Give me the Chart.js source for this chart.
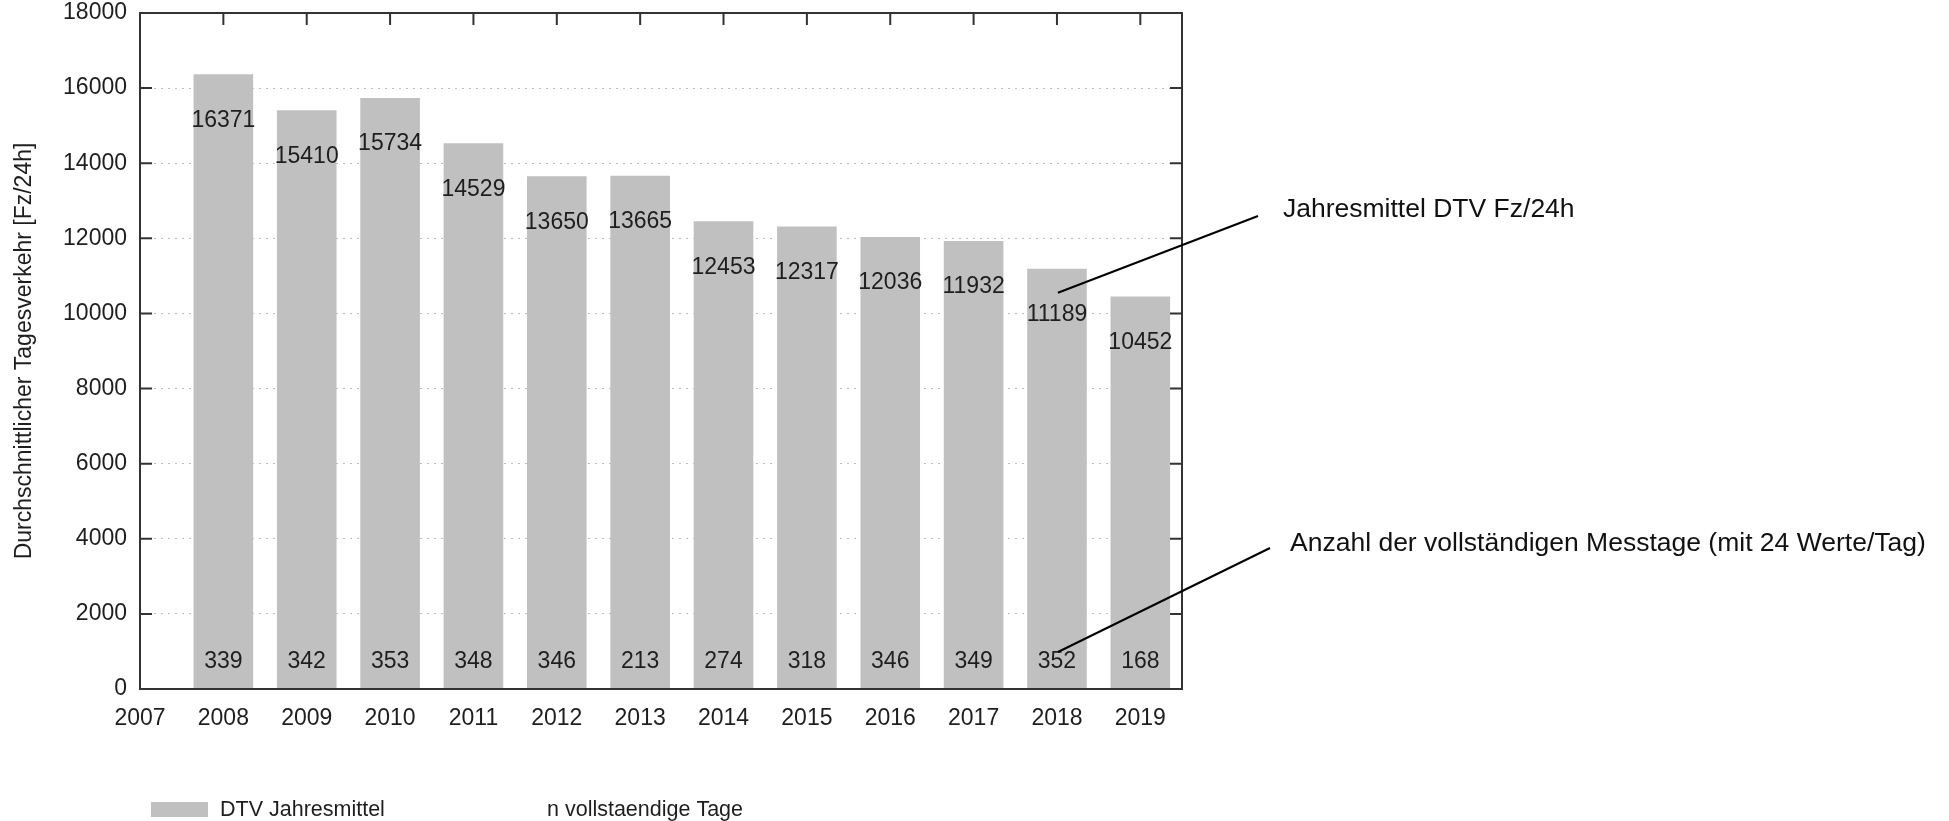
<!DOCTYPE html>
<html>
<head>
<meta charset="utf-8">
<script src="https://cdn.jsdelivr.net/npm/chart.js"></script>
<style>
  body { margin: 0; background: #fff; }
  #wrap { width: 1949px; height: 821px; }
</style>
</head>
<body>
<div id="wrap"><canvas id="barChart"></canvas></div>
<script>
// data
const years = [2008, 2009, 2010, 2011, 2012, 2013, 2014, 2015, 2016, 2017, 2018, 2019];
const dtv = [16371, 15410, 15734, 14529, 13650, 13665, 12453, 12317, 12036, 11932, 11189, 10452];
const days = [339, 342, 353, 348, 346, 213, 274, 318, 346, 349, 352, 168];
const xTicks = [2007, 2008, 2009, 2010, 2011, 2012, 2013, 2014, 2015, 2016, 2017, 2018, 2019];
const seriesNames = ['DTV Jahresmittel', 'n vollstaendige Tage'];
const noteDtv = 'Jahresmittel DTV Fz/24h';
const noteDays = 'Anzahl der vollständigen Messtage (mit 24 Werte/Tag)';
const yTitle = 'Durchschnittlicher Tagesverkehr [Fz/24h]';

const FONT = '"Liberation Sans", Arial, sans-serif';
const TXT = '#1e1e1e';

// frame, inner ticks, value labels, notes and legend
const deco = {
  id: 'deco',
  afterDatasetsDraw(chart) {
    const { ctx, chartArea: a, scales: { x, y } } = chart;
    ctx.save();

    ctx.strokeStyle = '#333';
    ctx.lineWidth = 2;
    ctx.strokeRect(a.left, a.top, a.right - a.left, a.bottom - a.top);
    ctx.beginPath();
    y.ticks.forEach(t => {
      const py = y.getPixelForValue(t.value);
      ctx.moveTo(a.left, py); ctx.lineTo(a.left + 12, py);
      ctx.moveTo(a.right, py); ctx.lineTo(a.right - 12, py);
    });
    x.ticks.forEach(t => {
      const px = x.getPixelForValue(t.value);
      ctx.moveTo(px, a.top); ctx.lineTo(px, a.top + 12);
    });
    ctx.stroke();

    ctx.fillStyle = TXT;
    ctx.font = '23px ' + FONT;
    ctx.textAlign = 'center';
    ctx.textBaseline = 'middle';
    years.forEach((yr, i) => {
      const px = x.getPixelForValue(yr);
      ctx.fillText(String(dtv[i]), px, y.getPixelForValue(dtv[i]) + 46);
      ctx.fillText(String(days[i]), px, a.bottom - 27);
    });

    // pointer notes on 2018
    const i18 = years.indexOf(2018);
    const px18 = x.getPixelForValue(2018);
    ctx.strokeStyle = '#000';
    ctx.lineWidth = 2;
    ctx.beginPath();
    ctx.moveTo(1258, 216);
    ctx.lineTo(px18 + 1, y.getPixelForValue(dtv[i18]) + 24);
    ctx.moveTo(1270, 548);
    ctx.lineTo(px18 + 1, a.bottom - 37);
    ctx.stroke();
    ctx.fillStyle = '#111';
    ctx.font = '26.5px ' + FONT;
    ctx.textAlign = 'left';
    ctx.fillText(noteDtv, 1283, 210);
    ctx.fillText(noteDays, 1290, 544);

    // legend
    ctx.font = '21.5px ' + FONT;
    ctx.fillStyle = '#c0c0c0';
    ctx.fillRect(151, 802, 57, 15);
    ctx.fillStyle = TXT;
    ctx.fillText(seriesNames[0], 220, 810);
    ctx.fillText(seriesNames[1], 547, 810);
    ctx.restore();
  }
};

const ctx = document.getElementById('barChart').getContext('2d');
const chart = new Chart(ctx, {
  type: 'bar',
  data: {
    datasets: [{
      label: seriesNames[0],
      data: years.map((yr, i) => ({ x: yr, y: dtv[i] })),
      backgroundColor: '#c0c0c0',
      barPercentage: 0.715,
      categoryPercentage: 1
    }]
  },
  options: {
    responsive: true,
    maintainAspectRatio: false,
    animation: false,
    layout: { padding: { left: 0, right: 767, top: 13, bottom: 0 } },
    plugins: {
      legend: { display: false },
      tooltip: { enabled: false }
    },
    scales: {
      x: {
        type: 'linear',
        offset: false,
        min: 2007,
        max: 2019.5,
        afterBuildTicks: s => { s.ticks = xTicks.map(v => ({ value: v })); },
        afterFit: s => { s.height = 132; s.paddingLeft = 0; s.paddingRight = 0; },
        ticks: {
          callback: v => String(v),
          font: { size: 23, family: FONT },
          color: TXT,
          padding: 16,
          maxRotation: 0,
          autoSkip: false
        },
        grid: { display: false, drawTicks: false },
        border: { display: false }
      },
      y: {
        min: 0,
        max: 18000,
        afterFit: s => { s.width = 140; s.paddingTop = 0; s.paddingBottom = 0; },
        ticks: {
          stepSize: 2000,
          callback: v => String(v),
          font: { size: 23, family: FONT },
          color: TXT,
          padding: 13
        },
        grid: { color: '#bdbdbd', lineWidth: 1, drawTicks: false },
        border: { display: false, dash: [2, 5] },
        title: {
          display: true,
          text: yTitle,
          font: { size: 23, family: FONT },
          color: TXT,
          padding: { top: 11, bottom: 0 }
        }
      }
    }
  },
  plugins: [deco]
});
</script>
</body>
</html>
